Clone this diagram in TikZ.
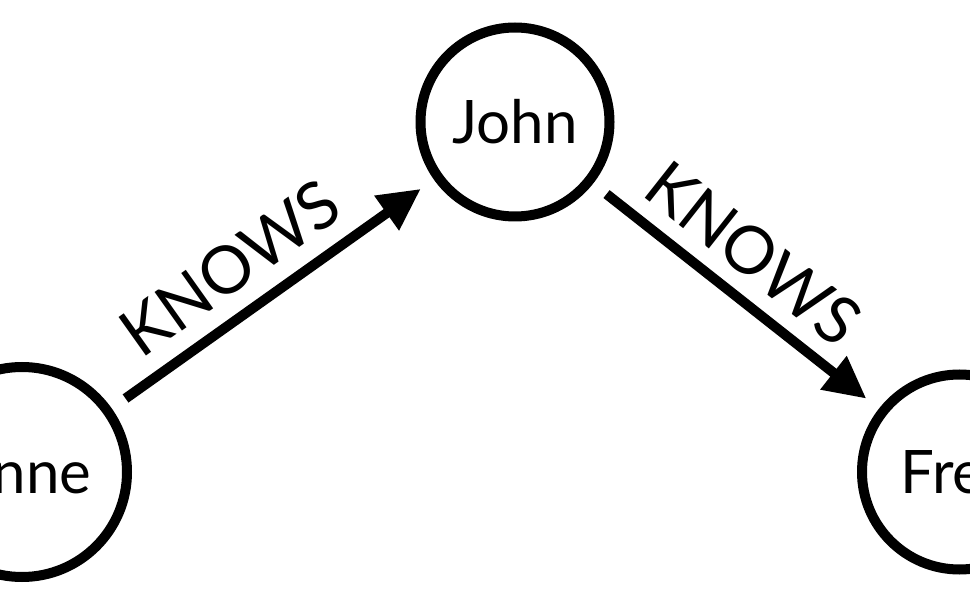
\documentclass[tikz,border=0pt]{standalone}
\usepackage{fontspec}
\setmainfont{Lato}
\usetikzlibrary{positioning,arrows.meta}

\tikzset{
  person/.style={draw, circle, line width=10pt, inner sep=0pt,
    font=\fontsize{60}{60}\selectfont},
  knows/.style={line width=10pt, -{Triangle[length=42pt,width=40pt]},
    shorten <=17pt, shorten >=16pt},
  rel/.style={sloped, inner sep=0pt, font=\fontsize{66}{66}\selectfont},
}

\begin{document}
\begin{tikzpicture}[x=1pt,y=1pt]
    \useasboundingbox (0,0) rectangle (970,606);
    \clip (0,0) rectangle (970,606);

    \node [person, minimum size=210pt] (anne) at (22,134) {Anne};
    \node [person, minimum size=189pt, on grid, above right=350pt and 493pt of anne] (john) {John};
    \node [person, minimum size=195pt, on grid, below right=350pt and 444.5pt of john] (fred) {Fred};

    \draw [knows] (anne) -- node [rel, pos=0.45, above=17pt] {KNOWS} (john);
    \draw [knows] (john) -- node [rel, pos=0.465, above=15pt] {KNOWS} (fred);
  \end{tikzpicture}
\end{document}
